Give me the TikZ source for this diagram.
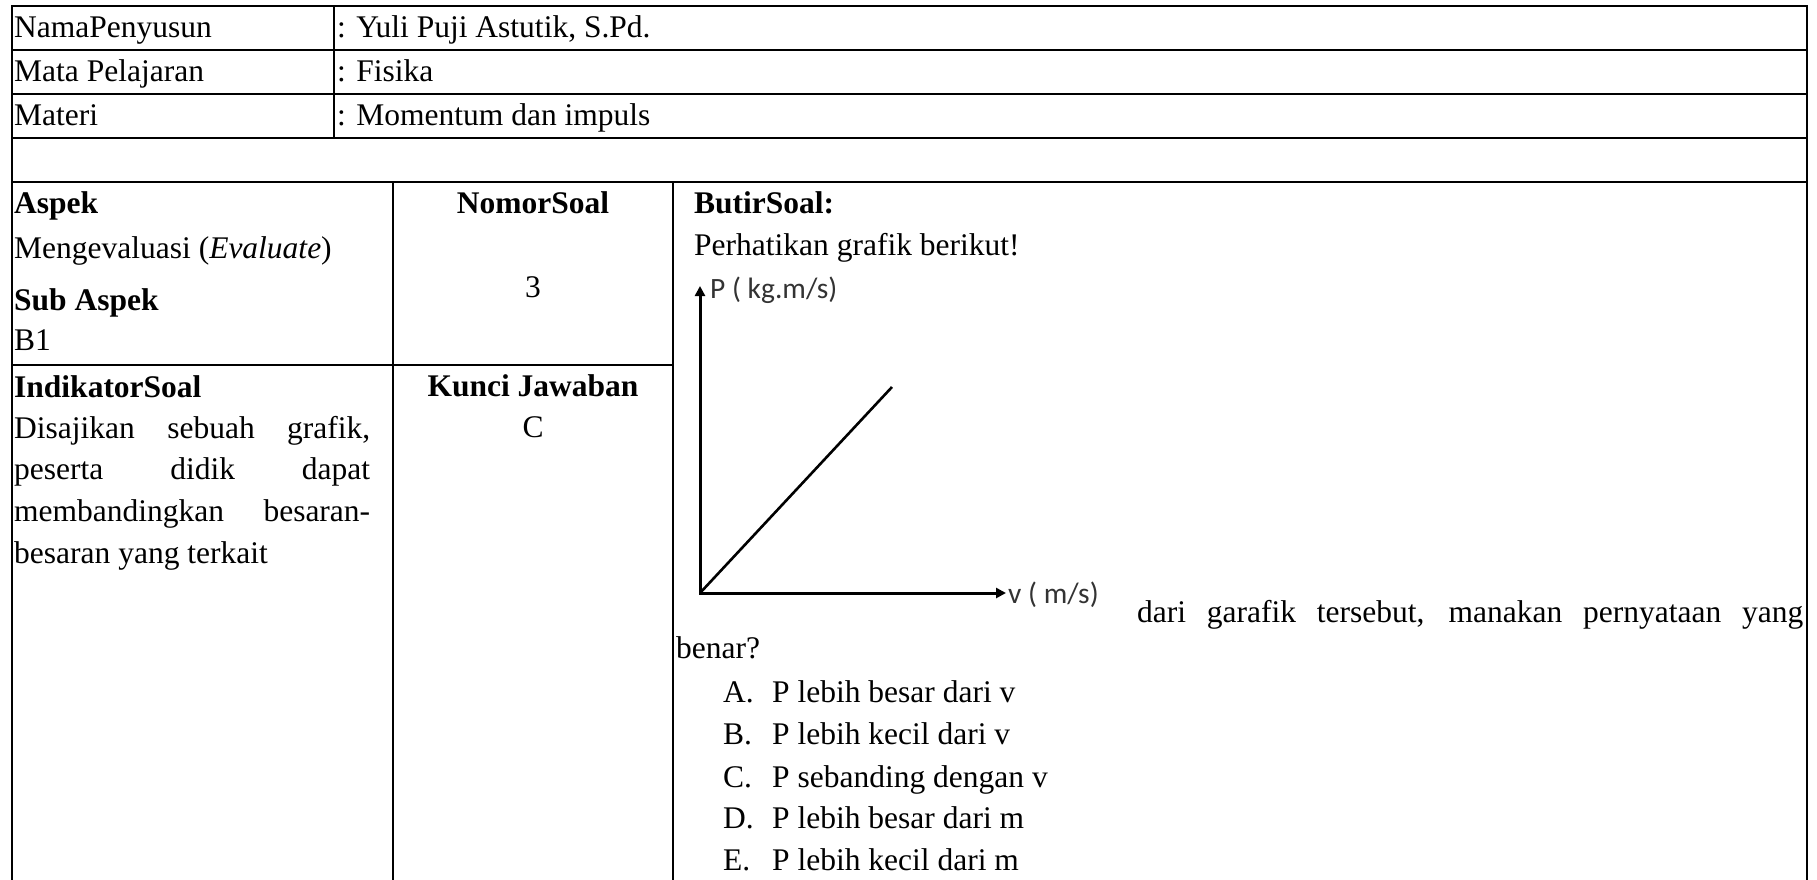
\documentclass[tikz,border=0pt]{standalone}
\usepackage{fontspec}
\setmainfont{Liberation Serif}
\newfontfamily\lblfont{Carlito}
\usetikzlibrary{arrows.meta}
\begin{document}
\begin{tikzpicture}[x=1pt,y=-1pt,
  grid/.style={line width=1.5pt,line cap=rect},
  txt/.style={anchor=base west,inner sep=0pt,font=\fontsize{31.5}{42}\selectfont},
  btxt/.style={txt,font=\fontsize{31.5}{42}\selectfont\bfseries},
  ctxt/.style={txt,anchor=base},
  bctxt/.style={btxt,anchor=base},
  lbl/.style={anchor=base west,inner sep=0pt,text=black!80,font=\lblfont\fontsize{29.5}{34}\selectfont},
  axis/.style={line width=3pt,line join=miter,{Triangle[length=10pt,width=10pt]}-{Triangle[length=10pt,width=10pt]}},
  curve/.style={line width=2.6pt}
]
\useasboundingbox (0,0) rectangle (1817,879);
\fill[white] (0,0) rectangle (1817,879);

% table grid
\draw[grid] (12,6) -- (1807,6);
\draw[grid] (12,50) -- (1807,50);
\draw[grid] (12,94) -- (1807,94);
\draw[grid] (12,138) -- (1807,138);
\draw[grid] (12,182) -- (1807,182);
\draw[grid] (12,6) -- (12,879);
\draw[grid] (1807,6) -- (1807,879);
\draw[grid] (334,6) -- (334,138);
\draw[grid] (393,182) -- (393,879);
\draw[grid] (673,182) -- (673,879);
\draw[grid] (12,365) -- (673,365);

% header rows
\node[txt] (nama) at (14,37) {NamaPenyusun};
\node[txt] (namav) at (337,37) {: Yuli Puji Astutik, S.Pd.};
\node[txt] (mapel) at (14,81) {Mata Pelajaran};
\node[txt] (mapelv) at (337,81) {: Fisika};
\node[txt] (materi) at (14,125) {Materi};
\node[txt] (materiv) at (337,125) {: Momentum dan impuls};

% left column
\node[btxt] (aspek) at (14,213) {Aspek};
\node[txt] (aspekv) at (14,258) {Mengevaluasi (\textit{Evaluate})};
\node[btxt] (sub) at (14,310) {Sub Aspek};
\node[txt] (subv) at (14,350) {B1};
\node[btxt] (ind) at (14,397) {IndikatorSoal};
\node[txt] (ind1) at (14,438) {\makebox[356pt][s]{Disajikan sebuah grafik,}};
\node[txt] (ind2) at (14,479) {\makebox[356pt][s]{peserta didik dapat}};
\node[txt] (ind3) at (14,521) {\makebox[356pt][s]{membandingkan besaran-}};
\node[txt] (ind4) at (14,563) {besaran yang terkait};

% middle column
\node[bctxt] (nomor) at (533,213) {NomorSoal};
\node[ctxt] (nomorv) at (533,297) {3};
\node[bctxt] (kunci) at (533,396) {Kunci Jawaban};
\node[ctxt] (kunciv) at (533,437) {C};

% right column
\node[btxt] (butir) at (694,213) {ButirSoal:};
\node[txt] (perh) at (694,255) {Perhatikan grafik berikut!};

% graph
\coordinate (org) at (700,593);
\coordinate (ytip) at (700,286);
\coordinate (xtip) at (1006,593);
\coordinate (dend) at (892,387);
\draw[axis] (ytip) -- (org) -- (xtip);
\draw[curve] (org) -- (dend);
\node[lbl] (plbl) at (710,298) {P ( kg.m/s)};
\node[lbl] (vlbl) at (1008,603) {v ( m/s)};

\node[txt] (dari) at (1137,622) {\makebox[666pt][s]{dari garafik tersebut, manakan pernyataan yang}};
\node[txt] (benar) at (676,658) {benar?};

% options
\node[txt] (la) at (723,702) {A.};
\node[txt] (ta) at (772,702) {P lebih besar dari v};
\node[txt] (lb) at (723,744) {B.};
\node[txt] (tb) at (772,744) {P lebih kecil dari v};
\node[txt] (lc) at (723,787) {C.};
\node[txt] (tc) at (772,787) {P sebanding dengan v};
\node[txt] (ld) at (723,828) {D.};
\node[txt] (td) at (772,828) {P lebih besar dari m};
\node[txt] (le) at (723,870) {E.};
\node[txt] (te) at (772,870) {P lebih kecil dari m};
\end{tikzpicture}
\end{document}
